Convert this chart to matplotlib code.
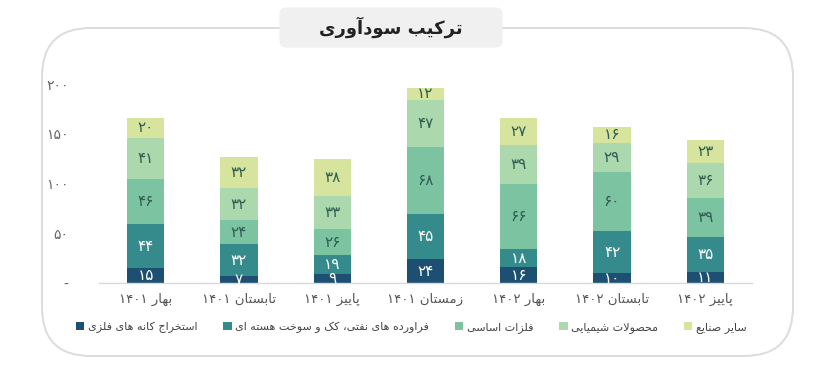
import matplotlib
matplotlib.use("Agg")
import matplotlib.pyplot as plt
from matplotlib.patches import FancyBboxPatch
import numpy as np

# داده ها
quarters = ["بهار ۱۴۰۱", "تابستان ۱۴۰۱", "پاییز ۱۴۰۱", "زمستان ۱۴۰۱",
            "بهار ۱۴۰۲", "تابستان ۱۴۰۲", "پاییز ۱۴۰۲"]
series_names = ["استخراج کانه های فلزی",
                "فراورده های نفتی، کک و سوخت هسته ای",
                "فلزات اساسی",
                "محصولات شیمیایی",
                "سایر صنایع"]
estekhraj = [15, 7, 9, 24, 16, 10, 11]
faravardeh = [44, 32, 19, 45, 18, 42, 35]
felezat = [46, 24, 26, 68, 66, 60, 39]
shimiyaei = [41, 32, 33, 47, 39, 29, 36]
sayer = [20, 32, 38, 12, 27, 16, 23]
yticks = [0, 50, 100, 150, 200]
ytick_labels = ["-", "۵۰", "۱۰۰", "۱۵۰", "۲۰۰"]
title = "ترکیب سودآوری"

colors = ["#1c4f71", "#358b8b", "#7cc3a1", "#abd8ac", "#d6e49e"]
label_colors = ["white", "white", "#2f5e52", "#2f5e52", "#2f5e52"]

# شکل دادن حروف فارسی (matplotlib خودش این کار را نمی کند)
# (isolated, final, initial, medial)
FORMS = {
    "ا": (0xFE8D, 0xFE8E, None, None), "آ": (0xFE81, 0xFE82, None, None),
    "ب": (0xFE8F, 0xFE90, 0xFE91, 0xFE92), "ت": (0xFE95, 0xFE96, 0xFE97, 0xFE98),
    "ث": (0xFE99, 0xFE9A, 0xFE9B, 0xFE9C), "ج": (0xFE9D, 0xFE9E, 0xFE9F, 0xFEA0),
    "ح": (0xFEA1, 0xFEA2, 0xFEA3, 0xFEA4), "خ": (0xFEA5, 0xFEA6, 0xFEA7, 0xFEA8),
    "د": (0xFEA9, 0xFEAA, None, None), "ذ": (0xFEAB, 0xFEAC, None, None),
    "ر": (0xFEAD, 0xFEAE, None, None), "ز": (0xFEAF, 0xFEB0, None, None),
    "س": (0xFEB1, 0xFEB2, 0xFEB3, 0xFEB4), "ش": (0xFEB5, 0xFEB6, 0xFEB7, 0xFEB8),
    "ص": (0xFEB9, 0xFEBA, 0xFEBB, 0xFEBC), "ض": (0xFEBD, 0xFEBE, 0xFEBF, 0xFEC0),
    "ط": (0xFEC1, 0xFEC2, 0xFEC3, 0xFEC4), "ظ": (0xFEC5, 0xFEC6, 0xFEC7, 0xFEC8),
    "ع": (0xFEC9, 0xFECA, 0xFECB, 0xFECC), "غ": (0xFECD, 0xFECE, 0xFECF, 0xFED0),
    "ف": (0xFED1, 0xFED2, 0xFED3, 0xFED4), "ق": (0xFED5, 0xFED6, 0xFED7, 0xFED8),
    "ل": (0xFEDD, 0xFEDE, 0xFEDF, 0xFEE0), "م": (0xFEE1, 0xFEE2, 0xFEE3, 0xFEE4),
    "ن": (0xFEE5, 0xFEE6, 0xFEE7, 0xFEE8), "ه": (0xFEE9, 0xFEEA, 0xFEEB, 0xFEEC),
    "و": (0xFEED, 0xFEEE, None, None),
    "پ": (0xFB56, 0xFB57, 0xFB58, 0xFB59), "چ": (0xFB7A, 0xFB7B, 0xFB7C, 0xFB7D),
    "ژ": (0xFB8A, 0xFB8B, None, None), "ک": (0xFB8E, 0xFB8F, 0xFB90, 0xFB91),
    "گ": (0xFB92, 0xFB93, 0xFB94, 0xFB95), "ی": (0xFBFC, 0xFBFD, 0xFBFE, 0xFBFF),
}


def fa(text):
    chars = list(text)
    out = []
    i = 0
    while i < len(chars):
        c = chars[i]
        prev = chars[i - 1] if i > 0 else None
        joins_prev = prev in FORMS and FORMS[prev][2] is not None and c in FORMS
        if c == "ل" and i + 1 < len(chars) and chars[i + 1] == "ا":
            out.append(chr(0xFEFC if joins_prev else 0xFEFB))
            i += 2
            continue
        if c not in FORMS:
            out.append(c)
            i += 1
            continue
        nxt = chars[i + 1] if i + 1 < len(chars) else None
        joins_next = FORMS[c][2] is not None and nxt in FORMS
        f = FORMS[c]
        if joins_prev and joins_next:
            code = f[3]
        elif joins_prev:
            code = f[1]
        elif joins_next:
            code = f[2]
        else:
            code = f[0]
        out.append(chr(code))
        i += 1
    # ترتیب نمایشی: برعکس، ولی اعداد از چپ به راست
    vis = out[::-1]
    res, run = [], []
    for ch in vis:
        if "۰" <= ch <= "۹" or ch.isdigit():
            run.append(ch)
        else:
            res.extend(run[::-1])
            run = []
            res.append(ch)
    res.extend(run[::-1])
    return "".join(res)


plt.rcParams["font.family"] = ["DejaVu Sans"]

fig = plt.figure(figsize=(8.15, 3.7), dpi=100)
fig.patch.set_facecolor("white")

# قاب دور نمودار
frame = FancyBboxPatch((42 / 815, (370 - 356) / 370), (793 - 42) / 815, (356 - 28) / 370,
                       boxstyle="round,pad=0,rounding_size=0.06",
                       transform=fig.transFigure, facecolor="none",
                       edgecolor="#dcdcdc", linewidth=1.4, mutation_aspect=815 / 370,
                       zorder=-5)
fig.patches.append(frame)

# جعبه عنوان
tbox = FancyBboxPatch((280 / 815, (370 - 47) / 370), (502 - 280) / 815, 39 / 370,
                      boxstyle="round,pad=0,rounding_size=0.008",
                      transform=fig.transFigure, facecolor="#f0f0f0",
                      edgecolor="#f0f0f0", linewidth=0.8, mutation_aspect=815 / 370,
                      zorder=-4)
fig.patches.append(tbox)
fig.text(391 / 815, (370 - 27) / 370, fa(title), ha="center", va="center",
         fontsize=13, fontweight="bold", color="#222222")

ax = fig.add_axes([99 / 815, (370 - 283) / 370, (752 - 99) / 815, (283 - 84) / 370])
ax.set_facecolor("none")

x = np.arange(len(quarters))
data = [estekhraj, faravardeh, felezat, shimiyaei, sayer]
bottom = np.zeros(len(quarters))
to_fa = str.maketrans("0123456789", "۰۱۲۳۴۵۶۷۸۹")
for vals, col, lcol, name in zip(data, colors, label_colors, series_names):
    vals = np.array(vals)
    ax.bar(x, vals, width=0.4, bottom=bottom, color=col, label=fa(name), linewidth=0)
    for xi, v, b in zip(x, vals, bottom):
        ax.text(xi, b + v / 2, str(int(v)).translate(to_fa), ha="center", va="center",
                fontsize=11, color=lcol)
    bottom = bottom + vals

ax.set_xlim(-0.5, 6.5)
ax.set_ylim(0, 200)
ax.set_xticks(x)
ax.set_xticklabels([fa(q) for q in quarters], fontsize=9.5, color="#555555")
ax.set_yticks(yticks)
ax.set_yticklabels(ytick_labels, fontsize=10, color="#666666")
ax.tick_params(axis="both", length=0)
ax.tick_params(axis="y", pad=22)
ax.tick_params(axis="x", pad=7)
for s in ["top", "right", "left"]:
    ax.spines[s].set_visible(False)
ax.spines["bottom"].set_color("#d9d9d9")
ax.spines["bottom"].set_linewidth(1)

handles, labels = ax.get_legend_handles_labels()
fig.legend(handles, labels, loc="center", bbox_to_anchor=(411 / 815, (370 - 327) / 370),
           ncol=5, frameon=False, fontsize=8, handlelength=0.8, handleheight=0.8,
           handletextpad=0.3, columnspacing=2.3, labelcolor="#444444")

fig.savefig("out.png", dpi=100, facecolor="white")
